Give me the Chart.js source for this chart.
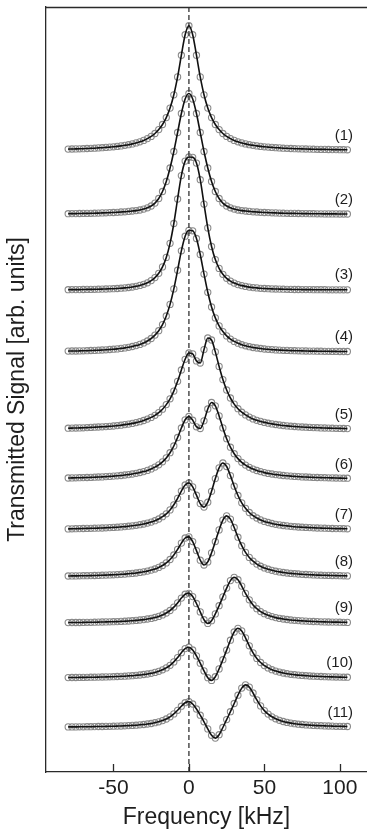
<!DOCTYPE html>
<html>
<head>
<meta charset="utf-8">
<script src="https://cdn.jsdelivr.net/npm/chart.js@4.4.1/dist/chart.umd.min.js"></script>
<style>
  html, body { margin: 0; padding: 0; background: #fff; }
  #wrap { width: 367px; height: 831px; overflow: hidden; }
</style>
</head>
<body>
<div id="wrap"><canvas id="chart" width="367" height="831"></canvas></div>
<script>
// frequency grid (kHz) shared by all spectra
const freq = [-80,-77.5,-75,-72.5,-70,-67.5,-65,-62.5,-60,-57.5,-55,-52.5,-50,-47.5,-45,-42.5,-40,-37.5,-35,-32.5,
  -30,-27.5,-25,-22.5,-20,-17.5,-15,-12.5,-10,-7.5,-5,-2.5,0,2.5,5,7.5,10,12.5,15,17.5,
  20,22.5,25,27.5,30,32.5,35,37.5,40,42.5,45,47.5,50,52.5,55,57.5,60,62.5,65,67.5,
  70,72.5,75,77.5,80,82.5,85,87.5,90,92.5,95,97.5,100,102.5,105];

// vertical offset of each spectrum (arb. units)
const baselines = [621.3, 557.5, 482, 420, 342, 292.5, 242, 195, 148.7, 93.7, 44.5];
const traceLabels = ['(1)','(2)','(3)','(4)','(5)','(6)','(7)','(8)','(9)','(10)','(11)'];
const xTicks = [-50, 0, 50, 100];

// signal above each baseline
const trace1 = [1.6,1.7,1.8,1.9,2.0,2.2,2.4,2.5,2.8,3.0,3.3,3.6,3.9,4.3,4.8,5.4,6.0,6.8,7.8,8.9,
  10.3,12.1,14.3,17.2,21.1,26.2,33.1,42.6,55.9,73.8,95.5,116,125,116,95.5,73.8,55.9,42.6,33.1,26.2,
  21.1,17.2,14.3,12.1,10.3,8.9,7.8,6.8,6.0,5.4,4.8,4.3,3.9,3.6,3.3,3.0,2.8,2.5,2.4,2.2,
  2.0,1.9,1.8,1.7,1.6,1.5,1.4,1.3,1.3,1.2,1.1,1.1,1.0,1.0,0.9];
const trace2 = [0.8,0.9,0.9,1.0,1.1,1.1,1.2,1.3,1.4,1.6,1.7,1.9,2.0,2.2,2.5,2.7,3.1,3.5,3.9,4.5,
  5.4,6.7,8.5,11.4,16,23,33,46.5,63,82,101,115.5,121,115.5,101,82,63,46.5,33,23,
  16,11.4,8.5,6.7,5.4,4.5,3.9,3.5,3.1,2.7,2.5,2.2,2.0,1.9,1.7,1.6,1.4,1.3,1.2,1.1,
  1.1,1.0,0.9,0.9,0.8,0.8,0.7,0.7,0.6,0.6,0.6,0.6,0.5,0.5,0.5];
const trace3 = [0.3,0.4,0.4,0.4,0.5,0.6,0.6,0.7,0.8,0.9,1.0,1.2,1.3,1.5,1.8,2.1,2.5,3.0,3.7,4.6,
  5.7,7.2,9.4,12.4,16.7,23.1,32.6,46.7,66.5,91,114.4,128.9,133,132.7,126.9,110.3,85.9,62.1,43.5,30.4,
  21.6,15.7,11.7,8.9,6.9,5.4,4.4,3.6,2.9,2.4,2.1,1.7,1.5,1.3,1.1,1.0,0.9,0.8,0.7,0.6,
  0.5,0.5,0.4,0.4,0.4,0.3,0.3,0.3,0.3,0.2,0.2,0.2,0.2,0.2,0.2];
const trace4 = [0.9,1.0,1.0,1.1,1.2,1.3,1.5,1.6,1.8,2.0,2.2,2.5,2.8,3.1,3.6,4.1,4.7,5.5,6.4,7.6,
  9.1,11.0,13.5,16.9,21.3,27.4,36.0,47.6,63.1,81.8,101.2,115.8,121.7,121.2,113.5,97.5,77.9,59.7,45.0,34.1,
  26.1,20.4,16.1,12.9,10.6,8.8,7.3,6.2,5.3,4.5,4.0,3.5,3.0,2.7,2.4,2.1,1.9,1.7,1.6,1.4,
  1.3,1.2,1.1,1.0,0.9,0.9,0.8,0.8,0.7,0.7,0.6,0.6,0.5,0.5,0.5];
const trace5 = [1.8,1.9,2.0,2.1,2.2,2.4,2.6,2.8,3.0,3.2,3.4,3.7,4.0,4.4,4.8,5.4,5.9,6.6,7.4,8.3,
  9.5,10.9,12.6,14.7,17.4,20.8,25.4,31.2,38.9,48.7,60.0,70.7,77.0,76.1,69.1,67.0,80.4,92.0,90.0,78.1,
  63.6,50.4,40.0,32.0,25.9,21.3,17.8,15.1,12.9,11.1,9.7,8.6,7.6,6.8,6.1,5.5,5.0,4.5,4.1,3.8,
  3.5,3.2,3.0,2.8,2.6,2.4,2.3,2.1,2.0,1.9,1.8,1.7,1.6,1.5,1.4];
const trace6 = [1.5,1.6,1.7,1.8,1.9,2.0,2.1,2.3,2.5,2.6,2.9,3.1,3.4,3.7,4.0,4.5,4.9,5.5,6.2,7.0,
  7.9,9.1,10.6,12.4,14.7,17.7,21.6,26.8,33.5,42.0,51.5,59.7,63.0,59.3,52.7,51.0,58.7,70.5,77.0,73.7,
  63.6,51.6,40.8,32.3,25.8,20.9,17.2,14.4,12.2,10.4,9.0,7.9,6.9,6.1,5.5,4.9,4.5,4.0,3.7,3.4,
  3.1,2.9,2.6,2.5,2.3,2.1,2.0,1.9,1.8,1.7,1.6,1.5,1.4,1.3,1.3];
const trace7 = [1.1,1.2,1.3,1.4,1.5,1.6,1.7,1.8,1.9,2.0,2.2,2.4,2.6,2.8,3.1,3.4,3.8,4.2,4.7,5.3,
  6.0,6.9,7.9,9.3,11.0,13.3,16.2,20.1,25.2,31.7,38.9,45.0,47.0,43.1,34.8,26.4,22.9,27.8,38.7,51.4,
  62.2,67.0,63.5,54.4,43.8,34.5,27.2,21.7,17.5,14.3,12.0,10.1,8.6,7.5,6.5,5.7,5.1,4.5,4.1,3.7,
  3.3,3.0,2.8,2.6,2.4,2.2,2.0,1.9,1.8,1.7,1.5,1.4,1.4,1.3,1.2];
const trace8 = [1.0,1.1,1.1,1.2,1.3,1.3,1.4,1.5,1.6,1.8,1.9,2.1,2.2,2.4,2.7,2.9,3.3,3.6,4.0,4.6,
  5.2,5.9,6.9,8.0,9.6,11.5,14.1,17.5,22.0,27.6,33.9,39.0,40.1,35.4,26.4,16.8,12.0,15.1,24.2,35.4,
  47.1,56.9,61.1,57.9,49.5,39.8,31.3,24.6,19.6,15.8,12.9,10.8,9.1,7.8,6.7,5.8,5.1,4.5,4.0,3.6,
  3.3,3.0,2.7,2.5,2.3,2.1,1.9,1.8,1.7,1.6,1.5,1.4,1.3,1.2,1.1];
const trace9 = [0.7,0.8,0.8,0.8,0.9,1.0,1.0,1.1,1.2,1.3,1.4,1.5,1.6,1.7,1.9,2.1,2.3,2.6,2.9,3.3,
  3.7,4.3,4.9,5.8,6.9,8.4,10.3,12.8,16.2,20.4,25.2,29.1,30.0,26.7,19.8,11.4,3.6,-0.1,2.6,9.4,
  17.6,26.4,35.2,42.7,46.0,43.6,37.2,29.9,23.5,18.4,14.6,11.7,9.6,8.0,6.7,5.7,4.9,4.3,3.8,3.3,
  3.0,2.7,2.4,2.2,2.0,1.8,1.7,1.5,1.4,1.3,1.2,1.2,1.1,1.0,0.9];
const trace10 = [0.7,0.8,0.8,0.9,0.9,1.0,1.1,1.1,1.2,1.3,1.4,1.5,1.6,1.8,2.0,2.1,2.4,2.6,3.0,3.3,
  3.8,4.3,5.0,5.9,7.0,8.5,10.4,13.0,16.4,20.7,25.6,29.7,31.1,28.3,22.4,15.1,7.4,0.6,-2.1,1.6,
  9.4,18.6,28.2,38.1,46.3,50.0,47.4,40.5,32.5,25.5,19.9,15.8,12.7,10.4,8.6,7.2,6.2,5.3,4.6,4.0,
  3.6,3.2,2.9,2.6,2.3,2.1,2.0,1.8,1.6,1.5,1.4,1.3,1.2,1.1,1.1];
const trace11 = [0.6,0.6,0.6,0.7,0.7,0.8,0.8,0.9,1.0,1.0,1.1,1.2,1.3,1.4,1.5,1.7,1.9,2.1,2.3,2.7,
  3.0,3.5,4.0,4.8,5.7,6.9,8.5,10.7,13.6,17.2,21.3,24.8,25.9,23.5,18.5,12.3,5.7,-1.4,-7.8,-10.6,
  -7.2,0.0,7.9,15.8,24.0,32.3,39.4,42.6,40.4,34.5,27.6,21.6,16.9,13.4,10.7,8.7,7.2,6.0,5.1,4.4,
  3.8,3.3,3.0,2.6,2.4,2.1,1.9,1.8,1.6,1.5,1.4,1.2,1.2,1.1,1.0];

const traces = [trace1, trace2, trace3, trace4, trace5, trace6, trace7, trace8, trace9, trace10, trace11];

const FONT = "'Liberation Sans', Arial, Helvetica, sans-serif";
const TEXT = '#1e1e1e';
const AXIS = '#2a2a2a';
const X_MIN = -94.7, X_MAX = 118;
const Y_MIN = 0, Y_MAX = 765;
const LABEL_X = 108.7;   // right edge of the (n) labels, kHz
const LABEL_LIFT = 15;   // labels sit above the baseline

function toPoints(vals, base) {
    return freq.map((f, i) => ({ x: f, y: base + vals[i] }));
}

const datasets = [];
traces.forEach((vals, k) => {
    // fitted curve
    datasets.push({
        data: toPoints(vals, baselines[k]),
        showLine: true,
        borderColor: '#111',
        borderWidth: 1.6,
        pointRadius: 0,
        cubicInterpolationMode: 'monotone',
        order: 0
    });
    // measured points
    datasets.push({
        data: toPoints(vals, baselines[k]),
        showLine: false,
        pointRadius: 3.1,
        pointBorderWidth: 1.1,
        pointBorderColor: '#8a8a8a',
        pointBackgroundColor: 'rgba(255,255,255,0)',
        order: 1
    });
});
// dashed line at zero detuning
datasets.push({
    data: [{ x: 0, y: Y_MIN }, { x: 0, y: Y_MAX }],
    showLine: true,
    borderColor: '#333',
    borderWidth: 1.3,
    borderDash: [5, 3],
    pointRadius: 0,
    order: 0
});

// top frame line, inward ticks and (n) labels
const framePlugin = {
    id: 'frame',
    afterDraw(chart) {
        const { ctx, chartArea, scales } = chart;
        ctx.save();
        ctx.strokeStyle = AXIS;
        ctx.lineWidth = 1.3;
        ctx.beginPath();
        ctx.moveTo(chartArea.left, chartArea.top + 0.5);
        ctx.lineTo(chartArea.right, chartArea.top + 0.5);
        xTicks.forEach(v => {
            const px = Math.round(scales.x.getPixelForValue(v)) + 0.5;
            ctx.moveTo(px, chartArea.bottom);
            ctx.lineTo(px, chartArea.bottom - 8);
        });
        ctx.stroke();

        ctx.fillStyle = TEXT;
        ctx.font = `15px ${FONT}`;
        ctx.textAlign = 'right';
        ctx.textBaseline = 'middle';
        traceLabels.forEach((lab, k) => {
            const px = scales.x.getPixelForValue(LABEL_X);
            const py = scales.y.getPixelForValue(baselines[k] + LABEL_LIFT);
            ctx.fillText(lab, px, py);
        });
        ctx.restore();
    }
};

new Chart(document.getElementById('chart'), {
    type: 'scatter',
    data: { datasets },
    options: {
        responsive: false,
        animation: false,
        devicePixelRatio: 1,
        layout: { autoPadding: false, padding: { top: 7, right: 0, bottom: 0, left: 0 } },
        plugins: { legend: { display: false }, tooltip: { enabled: false } },
        scales: {
            x: {
                type: 'linear',
                min: X_MIN,
                max: X_MAX,
                afterBuildTicks: axis => { axis.ticks = xTicks.map(v => ({ value: v })); },
                afterFit: axis => {
                    axis.height = 59;
                    axis.paddingLeft = 0;
                    axis.paddingRight = 0;
                },
                grid: { display: false, drawTicks: false },
                border: { display: true, color: AXIS, width: 1.3 },
                ticks: { color: TEXT, padding: 4, font: { family: FONT, size: 21 } },
                title: {
                    display: true,
                    text: 'Frequency [kHz]',
                    color: TEXT,
                    font: { family: FONT, size: 23 },
                    padding: { top: 0, bottom: 0 }
                }
            },
            y: {
                type: 'linear',
                min: Y_MIN,
                max: Y_MAX,
                afterFit: axis => { axis.width = 46; },
                grid: { display: false, drawTicks: false },
                border: { display: true, color: AXIS, width: 1.3 },
                ticks: { display: false },
                title: {
                    display: true,
                    text: 'Transmitted Signal [arb. units]',
                    color: TEXT,
                    font: { family: FONT, size: 23 },
                    padding: { top: 4, bottom: 0 }
                }
            }
        }
    },
    plugins: [framePlugin]
});
</script>
</body>
</html>
